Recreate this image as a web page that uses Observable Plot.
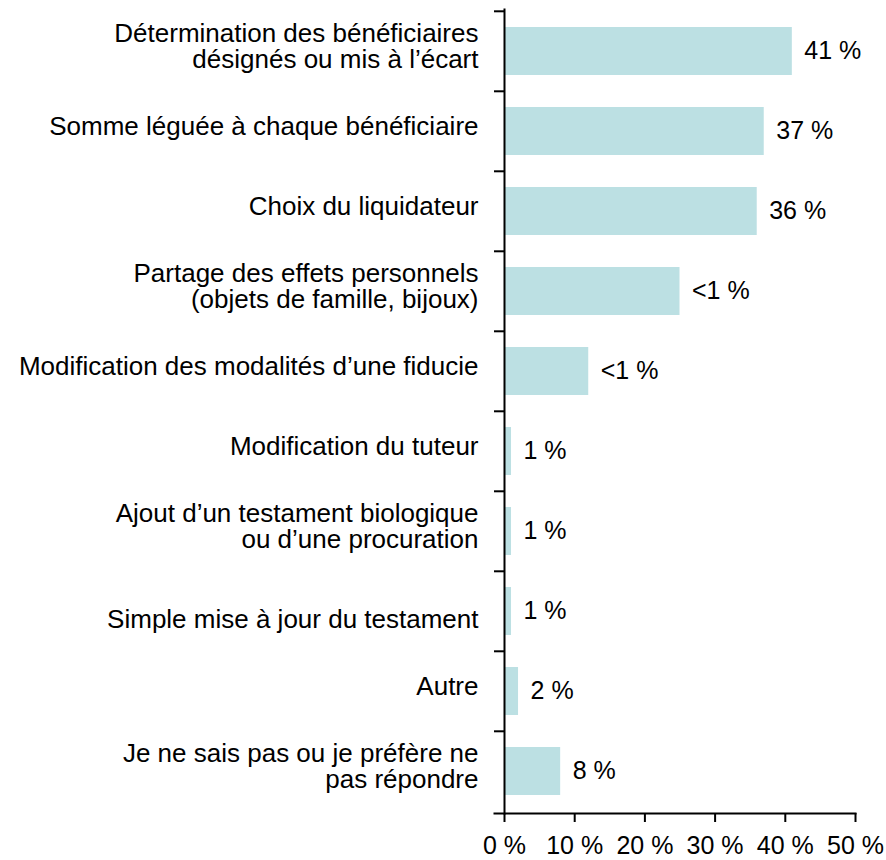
<!DOCTYPE html>
<html><head><meta charset="utf-8">
<script src="https://cdn.jsdelivr.net/npm/d3@7"></script>
<script src="https://cdn.jsdelivr.net/npm/@observablehq/plot@0.6"></script>
<style>body{margin:0;background:#fff}</style>
</head><body><div id="chart"></div>
<script>
const categories = [
  "Détermination des bénéficiaires\ndésignés ou mis à l’écart",
  "Somme léguée à chaque bénéficiaire",
  "Choix du liquidateur",
  "Partage des effets personnels\n(objets de famille, bijoux)",
  "Modification des modalités d’une fiducie",
  "Modification du tuteur",
  "Ajout d’un testament biologique\nou d’une procuration",
  "\nSimple mise à jour du testament",
  "Autre",
  "Je ne sais pas ou je préfère ne\npas répondre"
];
const values = [41, 37, 36, 25, 12, 1, 1, 1, 2, 8];
const valueLabels = ["41 %", "37 %", "36 %", "<1 %", "<1 %", "1 %", "1 %", "1 %", "2 %", "8 %"];
const xTicks = [0, 10, 20, 30, 40, 50];

const data = categories.map((c, i) => ({category: c, value: values[i], label: valueLabels[i]}));
const W = 886, H = 860, mT = 9, mB = 47, mL = 504, mR = 31;
const step = (H - mT - mB) / categories.length;
const font = "'Liberation Sans', Arial, sans-serif";

const chart = Plot.plot({
  width: W, height: H,
  marginTop: mT, marginBottom: mB, marginLeft: mL, marginRight: mR,
  style: {fontFamily: font, fontSize: "26px", color: "#000", background: "#fff", overflow: "visible"},
  x: {domain: [0, 50], label: null},
  y: {domain: categories, paddingInner: 0.4, paddingOuter: 0.2, label: null},
  marks: [
    Plot.barX(data, {y: "category", x: "value", fill: "#bce0e3"}),
    Plot.text(data, {y: "category", x: "value", text: "label", textAnchor: "start", dx: 12, dy: -1, fontSize: 25, fill: "#000"}),
    Plot.text(data, {y: "category", text: "category", frameAnchor: "left", textAnchor: "end", dx: -26, dy: -5, lineHeight: 1.0, fontSize: 26, fill: "#000"}),
    Plot.axisY({tickSize: 10, tickFormat: () => "", dy: -step / 2, strokeWidth: 2}),
    Plot.axisX({ticks: xTicks, tickSize: 9, tickPadding: 14, tickFormat: d => `${d} %`, fontSize: 25, strokeWidth: 2}),
    Plot.frame({anchor: "left", strokeWidth: 2}),
    Plot.frame({anchor: "bottom", insetLeft: -10, strokeWidth: 2})
  ]
});
document.getElementById("chart").appendChild(chart);
</script>
</body></html>
